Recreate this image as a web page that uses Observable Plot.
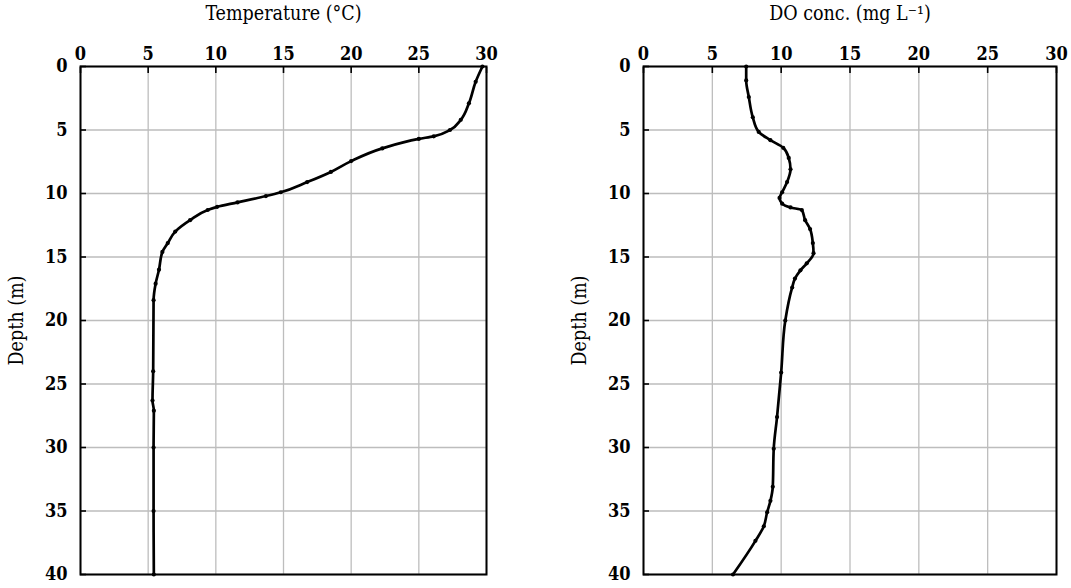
<!DOCTYPE html>
<html><head><meta charset="utf-8">
<script src="https://cdn.jsdelivr.net/npm/d3@7"></script>
<script src="https://cdn.jsdelivr.net/npm/@observablehq/plot@0.6"></script>
<style>
body{margin:0;background:#fff;}
#wrap{display:flex;width:1071px;height:588px;}
g[aria-label="x-axis tick label"], g[aria-label="y-axis tick label"]{font-weight:bold;font-size:18px;}
g[aria-label="x-axis label"], g[aria-label="y-axis label"]{font-weight:normal;font-size:19.5px;}
</style></head><body><div id="wrap"></div>
<script>
const xTicks = [0, 5, 10, 15, 20, 25, 30];
const yTicks = [0, 5, 10, 15, 20, 25, 30, 35, 40];

const tempDepth = [0, 1.2, 2.9, 4.2, 5.0, 5.5, 5.7, 6.45, 7.45, 8.3, 9.1, 9.9, 10.2, 10.7, 11.05, 11.3, 12.1, 13.0, 13.9, 14.6, 16.0, 17.1, 18.4, 24.0, 26.3, 27.1, 30, 35, 40];
const tempValue = [29.7, 29.2, 28.7, 28.1, 27.3, 26.1, 25.0, 22.3, 20.0, 18.5, 16.75, 14.8, 13.7, 11.6, 10.1, 9.4, 8.1, 7.0, 6.45, 6.05, 5.8, 5.55, 5.4, 5.37, 5.32, 5.42, 5.4, 5.4, 5.42];

const doDepth = [0, 1.1, 2.4, 4.0, 5.15, 5.8, 6.4, 7.2, 8.1, 9.1, 9.9, 10.35, 10.8, 11.1, 11.3, 12.1, 12.8, 13.9, 14.7, 15.5, 16.05, 16.7, 17.4, 20.0, 24.1, 27.6, 30.1, 33.1, 34.2, 35.1, 36.2, 37.35, 40];
const doValue = [7.46, 7.46, 7.65, 7.94, 8.37, 9.22, 10.15, 10.55, 10.68, 10.43, 10.07, 9.88, 10.07, 10.68, 11.5, 11.74, 12.1, 12.3, 12.35, 11.86, 11.4, 11.0, 10.8, 10.3, 10.0, 9.7, 9.46, 9.39, 9.22, 8.98, 8.74, 8.13, 6.5];

function panel(depths, values, title, width, marginRight) {
  const data = depths.map((d, i) => ({depth: d, value: values[i]}));
  return Plot.plot({
    width, height: 588,
    marginLeft: 80, marginRight, marginTop: 66, marginBottom: 14,
    style: {fontFamily: "'DejaVu Serif Condensed', 'DejaVu Serif', serif", color: "black", background: "white"},
    x: {domain: [0, 30]},
    y: {domain: [0, 40], reverse: true},
    marks: [
      Plot.gridX(xTicks, {stroke: "#bdbdbd", strokeOpacity: 1, strokeWidth: 1.3}),
      Plot.gridY(yTicks, {stroke: "#bdbdbd", strokeOpacity: 1, strokeWidth: 1.3}),
      Plot.axisX(xTicks, {anchor: "top", tickSize: 6, dy: 6, strokeWidth: 1.6, tickFormat: () => "", label: null}),
      Plot.axisY(yTicks, {anchor: "left", tickSize: 6, dx: 6, strokeWidth: 1.6, tickFormat: () => "", label: null}),
      Plot.axisX(xTicks, {anchor: "top", tickSize: 0, tickPadding: 7, label: title, labelAnchor: "center", labelOffset: 60, labelArrow: false}),
      Plot.axisY(yTicks, {anchor: "left", tickSize: 0, tickPadding: 13, label: "Depth (m)", labelAnchor: "center", labelOffset: 71, labelArrow: false}),
      Plot.line(data, {x: "value", y: "depth", curve: "monotone-y", stroke: "black", strokeWidth: 2.7}),
      Plot.dot(data, {x: "value", y: "depth", r: 2.1, fill: "black"}),
      Plot.frame({stroke: "black", strokeWidth: 2})
    ]
  });
}

const wrap = document.getElementById("wrap");
wrap.append(panel(tempDepth, tempValue, "Temperature (°C)", 563, 77));
wrap.append(panel(doDepth, doValue, "DO conc. (mg L⁻¹)", 508, 15));
</script></body></html>
